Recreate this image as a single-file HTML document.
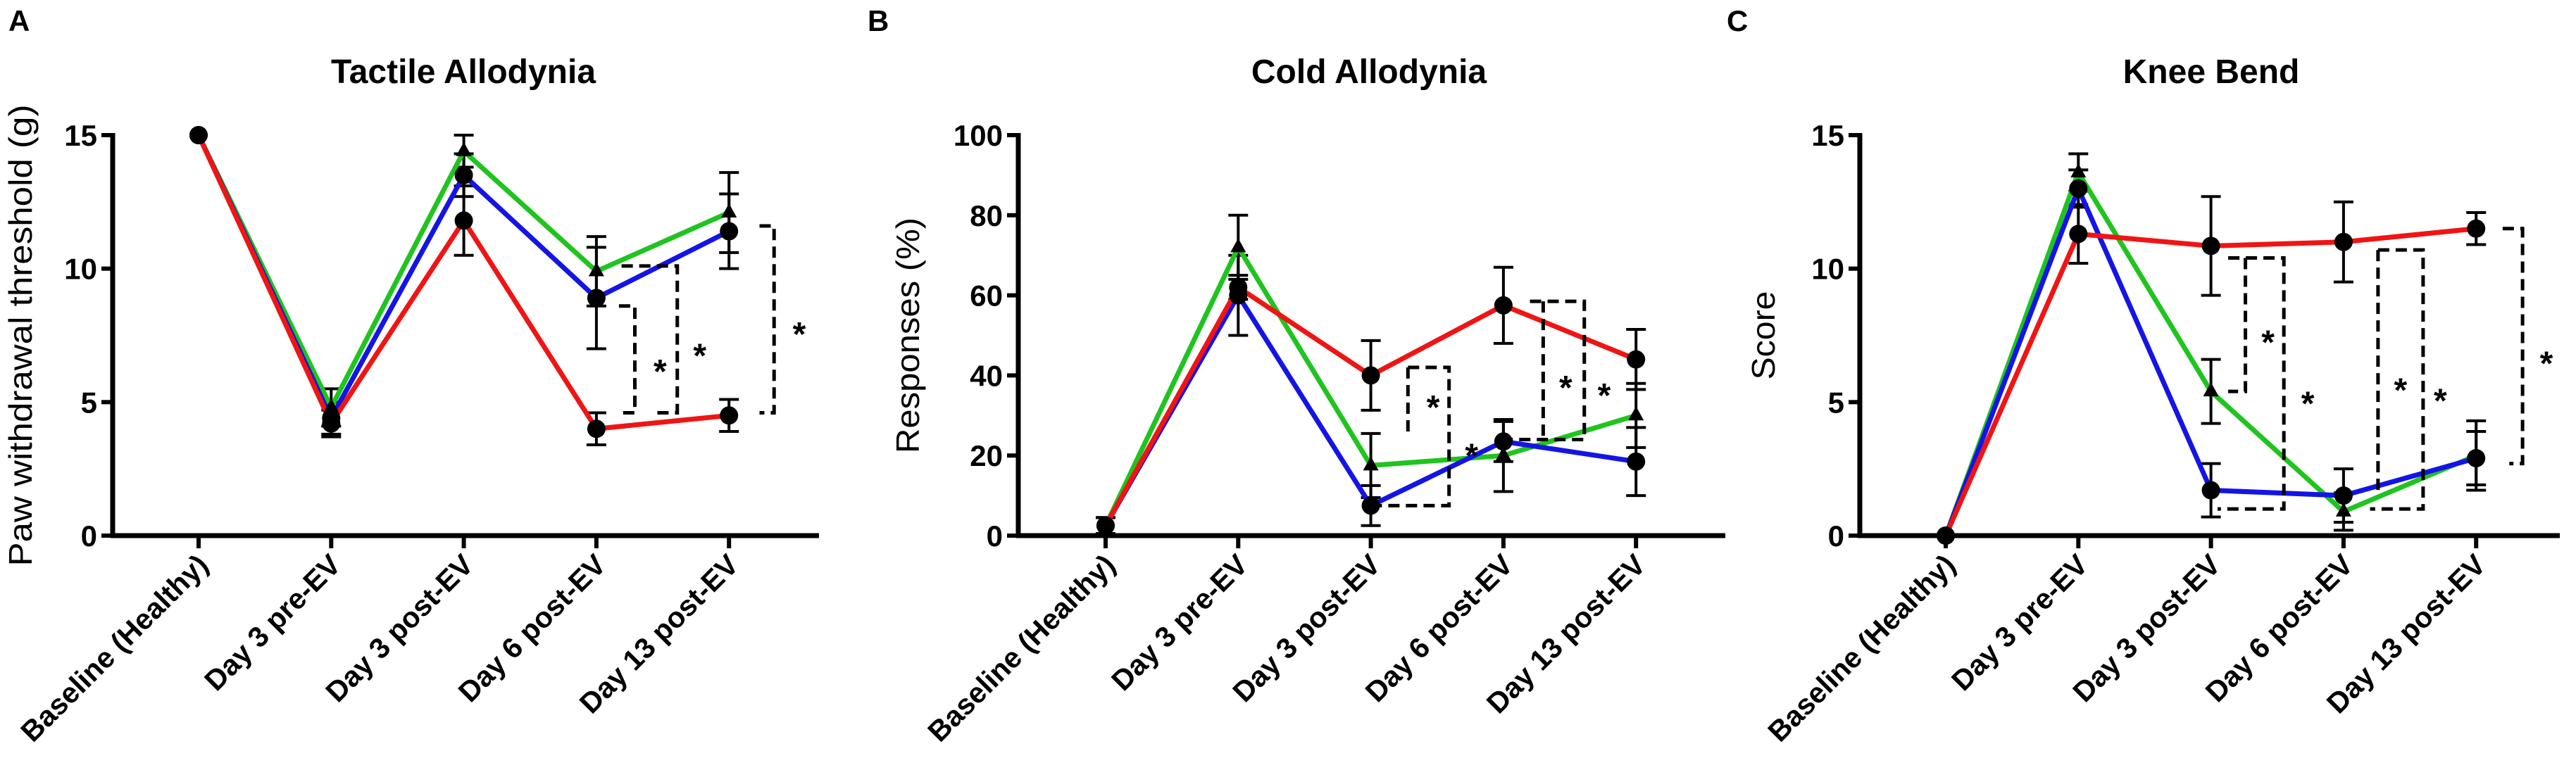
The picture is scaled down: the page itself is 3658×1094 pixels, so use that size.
<!DOCTYPE html>
<html><head><meta charset="utf-8"><style>
html,body{margin:0;padding:0;background:#fff}
svg{display:block}
text{font-family:"Liberation Sans",Arial,sans-serif;fill:#000}
</style></head><body>
<svg id="fig" width="3658" height="1094" viewBox="0 0 3658 1094" xmlns="http://www.w3.org/2000/svg"></svg>
<script>
const categories = ["Baseline (Healthy)","Day 3 pre-EV","Day 3 post-EV","Day 6 post-EV","Day 13 post-EV"];
// Panel A: Tactile Allodynia
const aGreen = [15, 4.8, 14.4, 9.9, 12.1];
const aGreenErr = [0, 0.7, 0.6, 1.3, 1.5];
const aBlue = [15, 4.4, 13.5, 8.9, 11.4];
const aBlueErr = [0, 0.6, 0.8, 1.9, 1.4];
const aRed = [15, 4.2, 11.8, 4.0, 4.5];
const aRedErr = [0, 0.5, 1.3, 0.6, 0.6];
const aTicks = [0, 5, 10, 15];
// Panel B: Cold Allodynia
const bGreen = [2.5, 72, 17.5, 20, 30];
const bGreenErr = [2, 8, 8, 9, 8];
const bBlue = [2.5, 60, 7.5, 23.5, 18.5];
const bBlueErr = [2, 10, 5, 5, 8.5];
const bRed = [2.5, 62, 40, 57.5, 44];
const bRedErr = [2, 3, 8.7, 9.5, 7.5];
const bTicks = [0, 20, 40, 60, 80, 100];
// Panel C: Knee Bend
const cGreen = [0, 13.6, 5.4, 0.9, 3.0];
const cGreenErr = [0, 0.7, 1.2, 0.7, 1.3];
const cBlue = [0, 13.0, 1.7, 1.5, 2.9];
const cBlueErr = [0, 0.7, 1.0, 1.0, 1.0];
const cRed = [0, 11.3, 10.85, 11.0, 11.5];
const cRedErr = [0, 1.1, 1.85, 1.5, 0.6];
const cTicks = [0, 5, 10, 15];

const NS = "http://www.w3.org/2000/svg";
const svg = document.getElementById("fig");
function mk(tag, attrs, parent){
  const e = document.createElementNS(NS, tag);
  for (const k in attrs) e.setAttribute(k, attrs[k]);
  (parent||svg).appendChild(e);
  return e;
}

const panels = [
  {letter:"A", lx:12, title:"Tactile Allodynia", tx:658, ax:160, x0:282, xEnd:1163, ymax:15, ticks:aTicks, ytitle:"Paw withdrawal threshold (g)", ytx:45, ytLen:656,
   series:[[aGreen,aGreenErr,"#1fc41f","tri"],[aBlue,aBlueErr,"#1414e6","circ"],[aRed,aRedErr,"#f01414","circ"]],
   brackets:[{x:3.29,l:3.17,lb:3.17,t:8.6,b:4.6,s:[[3.48,6.3]]},{x:3.61,l:3.19,lb:3.43,t:10.1,b:4.6,s:[[3.78,6.9]]},{x:4.34,l:4.23,lb:4.23,t:11.6,b:4.6,s:[[4.53,7.7]]}]},
  {letter:"B", lx:1232, title:"Cold Allodynia", tx:1944, ax:1446, x0:1570, xEnd:2450, ymax:100, ticks:bTicks, ytitle:"Responses (%)", ytx:1305, ytLen:335,
   series:[[bGreen,bGreenErr,"#1fc41f","tri"],[bBlue,bBlueErr,"#1414e6","circ"],[bRed,bRedErr,"#f01414","circ"]],
   brackets:[{x:2.59,l:2.28,lb:2.0,t:42,b:7.5,lv:[2.28,42,25],s:[[2.47,33],[2.76,21]]},{x:3.61,l:3.2,lb:3.0,t:58.5,b:24,lv:[3.3,58.5,24],s:[[3.47,38],[3.76,36]]}]},
  {letter:"C", lx:2452, title:"Knee Bend", tx:3140, ax:2641, x0:2763, xEnd:3635, ymax:15, ticks:cTicks, ytitle:"Score", ytx:2520, ytLen:126,
   series:[[cGreen,cGreenErr,"#1fc41f","tri"],[cBlue,cBlueErr,"#1414e6","circ"],[cRed,cRedErr,"#f01414","circ"]],
   brackets:[{x:2.55,l:2.13,lb:2.05,t:10.4,b:1.0,lv:[2.26,10.4,5.4],lvb:2.13,s:[[2.43,7.4],[2.73,5.1]]},{x:3.6,l:3.26,lb:3.2,t:10.7,b:1.0,lv:[3.26,10.7,1.5],s:[[3.43,5.6],[3.73,5.2]]},{x:4.35,l:4.2,lb:4.25,t:11.5,b:2.7,s:[[4.53,6.6]]}]}
];

const Y0 = 761, Y1 = 192, SP = 188.3;
panels.forEach(p => {
  const g = mk("g", {});
  
  
  const X = i => p.x0 + i * SP;
  const Y = v => Y0 - (v / p.ymax) * (Y0 - Y1);

  const lt = mk("text", {x:p.lx, y:44, "font-size":42, "font-weight":"bold"}, g);
  lt.textContent = p.letter;
  
  

  const tt = mk("text", {x:p.tx, y:118, "font-size":48, "font-weight":"bold", "text-anchor":"middle"}, g);
  tt.textContent = p.title;
  
  

  const yt = mk("text", {x:0, y:0, "font-size":46, "text-anchor":"middle", transform:`translate(${p.ytx},${(Y0+Y1)/2}) rotate(-90)`, textLength:p.ytLen, lengthAdjust:"spacingAndGlyphs"}, g);
  yt.textContent = p.ytitle;
  
  

  const ya = mk("line", {x1:p.ax, y1:Y1-3, x2:p.ax, y2:Y0+3, stroke:"#000", "stroke-width":7}, g);
  
  
  const xa = mk("line", {x1:p.ax-3, y1:Y0, x2:p.xEnd, y2:Y0, stroke:"#000", "stroke-width":7}, g);
  
  

  p.ticks.forEach(t => {
    mk("line", {x1:p.ax-16, y1:Y(t), x2:p.ax, y2:Y(t), stroke:"#000", "stroke-width":6}, g);
    const tl = mk("text", {x:p.ax-22, y:Y(t)+15, "font-size":42, "font-weight":"bold", "text-anchor":"end"}, g);
    tl.textContent = t;
    
    
  });
  categories.forEach((c, i) => {
    mk("line", {x1:X(i), y1:Y0, x2:X(i), y2:Y0+18, stroke:"#000", "stroke-width":6}, g);
    const cl = mk("text", {x:0, y:0, "font-size":41, "font-weight":"bold", "text-anchor":"end", transform:`translate(${X(i)+16},${Y0+44}) rotate(-45)`}, g);
    cl.textContent = c;
    
    
  });

  p.series.forEach(([vals, errs]) => {
    vals.forEach((v, i) => {
      const e = errs[i]; if (!e) return;
      const eb = mk("path", {d:`M${X(i)},${Y(v+e)}V${Y(v-e)}M${X(i)-14},${Y(v+e)}h28M${X(i)-14},${Y(v-e)}h28`, stroke:"#000", "stroke-width":4, fill:"none"}, g);
      
      
    });
  });
  p.series.forEach(([vals,, color], si) => {
    const pl = mk("polyline", {points: vals.map((v,i)=>`${X(i)},${Y(v)}`).join(" "), fill:"none", stroke:color, "stroke-width":7, "stroke-linejoin":"round"}, g);
    
    
  });
  p.series.forEach(([vals,,, shape]) => {
    vals.forEach((v, i) => {
      let m;
      if (shape === "tri") m = mk("path", {d:`M${X(i)},${Y(v)-13}l11,20h-22z`, fill:"#000"}, g);
      else m = mk("circle", {cx:X(i), cy:Y(v), r:13, fill:"#000"}, g);
      
      
    });
  });
  const ds = {stroke:"#000", "stroke-width":5, fill:"none", "stroke-dasharray":"16 9"};
  p.brackets.forEach(b => {
    let d = `M${X(b.l)},${Y(b.t)}H${X(b.x)}V${Y(b.b)}H${X(b.lb)}`;
    if (b.lv) d += `M${X(b.lv[0])},${Y(b.lv[1])}V${Y(b.lv[2])}` + (b.lvb ? `H${X(b.lvb)}` : "");
    const br = mk("path", Object.assign({d}, ds), g);
    
    
    b.s.forEach(([sx, sy]) => {
      const st = mk("text", {x:X(sx), y:Y(sy)+22, "font-size":48, "font-weight":"bold", "text-anchor":"middle"}, g);
      st.textContent = "*";
      
      
    });
  });
});
</script>
</body></html>
